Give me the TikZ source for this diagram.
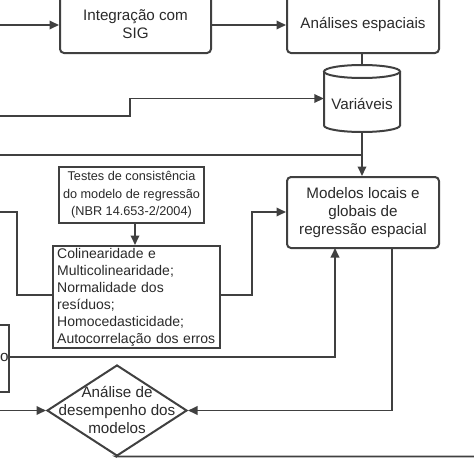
\documentclass[tikz,border=0pt]{standalone}
\usepackage{fontspec}
\setmainfont{Liberation Sans}
\usetikzlibrary{arrows.meta,shapes.geometric}
\definecolor{ln}{HTML}{404040}
\definecolor{tx}{HTML}{2A2A2A}
\begin{document}
\begin{tikzpicture}[x=1pt,y=-1pt,
  rbox/.style={draw=ln,line width=2pt,rounded corners=4pt,fill=white,text=tx,align=center,inner sep=0pt,font=\fontsize{15.2}{18}\selectfont},
  sbox/.style={draw=ln,line width=1.7pt,fill=white,text=tx,inner sep=0pt},
  conn/.style={draw=ln,line width=1.8pt},
  arr/.style={conn,-{Triangle[length=9.5pt,width=8.5pt]}},
  lbl/.style={text=tx,align=center,inner sep=0pt,font=\fontsize{15.2}{18}\selectfont}]
\useasboundingbox (0,0) rectangle (474,474);
\clip (0,0) rectangle (474,474);
% boxes
\node[rbox,minimum width=151pt,minimum height=62pt] (integ) at (135.5,22) {};
\node[lbl] at (135.5,24) {Integração com\\SIG};
\node[rbox,minimum width=152pt,minimum height=62pt] (ana) at (363,22) {};
\node[lbl] at (363,24) {Análises espaciais};
% cylinder
\node[minimum width=76pt,minimum height=67pt,inner sep=0pt] (var) at (362,98.5) {};
\fill[white] (324,71.5) -- (324,125.5) arc[start angle=180,end angle=360,x radius=38,y radius=6.5] -- (400,71.5) arc[start angle=0,end angle=180,x radius=38,y radius=6.5] -- cycle;
\draw[ln,line width=2pt] (324,71.5) -- (324,125.5) arc[start angle=180,end angle=360,x radius=38,y radius=-6.5] -- (400,71.5);
\draw[ln,line width=2pt] (362,71.5) ellipse[x radius=38,y radius=6.5];
\node[lbl] at (362,104) {Variáveis};
\node[rbox,minimum width=152pt,minimum height=71pt] (mod) at (363,212.5) {Modelos locais e\\globais de\\regressão espacial};
\node[sbox,line width=2.3pt,minimum width=145pt,minimum height=56pt,align=center,font=\fontsize{12.7}{17.5}\selectfont] (tst) at (131.5,195) {Testes de consistência\\do modelo de regressão\\(NBR 14.653-2/2004)};
\node[sbox,anchor=north west,minimum width=167pt,minimum height=102pt,inner sep=0pt] (col) at (52,245) {};
\node[anchor=west,text width=160pt,inner sep=0pt,align=left,text=tx,font=\fontsize{14}{17}\selectfont] at (57,297) {Colinearidade e\\Multicolinearidade;\\Normalidade dos\\resíduos;\\Homocedasticidade;\\Autocorrelação dos erros};
\node[sbox,anchor=north east,minimum width=120pt,minimum height=67pt] (lb) at (10,324) {};
\node[lbl,anchor=west] at (0,357) {o};
\node[draw=ln,line width=2pt,fill=white,diamond,minimum width=140pt,minimum height=91pt,inner sep=0pt] (dia) at (117,410.5) {};
\node[lbl] at (117,409.5) {Análise de\\desempenho dos\\modelos};
% free ends
\coordinate (s1) at (0,25);
\coordinate (s2) at (0,116);
\coordinate (s3) at (0,155);
\coordinate (s4) at (0,212);
\coordinate (s5) at (0,410.5);
\coordinate (e1) at (474,456.5);
\coordinate (mb1) at (335,248);
\coordinate (mb2) at (392,248);
% connectors
\draw[arr] (s1) -- (integ.west |- s1);
\draw[arr] (integ.east |- s1) -- (ana.west |- s1);
\draw[conn] (ana.south -| var.north) -- (var.north);
\draw[arr] (s2) -- (130,116) -- (130,98.5) -- (var.west);
\draw[conn] (s3) -- (s3 -| var.south);
\draw[arr] (var.south) -- (mod.north -| var.south);
\draw[arr] (tst.south -| 135,0) -- (col.north -| 135,0);
\draw[arr] (col.east |- 0,295) -- (252,295) -- (252,212) -- (mod.west |- 0,212);
\draw[conn] (s4) -- (17,212) -- (17,295) -- (col.west |- 0,295);
\draw[arr] (lb.east |- 0,357) -- (335,357) -- (mb1);
\draw[arr] (mb2) -- (392,410.5) -- (dia.east);
\draw[arr] (s5) -- (dia.west);
\draw[conn] (dia.south) -- (116,456.5) -- (e1);
\end{tikzpicture}
\end{document}
